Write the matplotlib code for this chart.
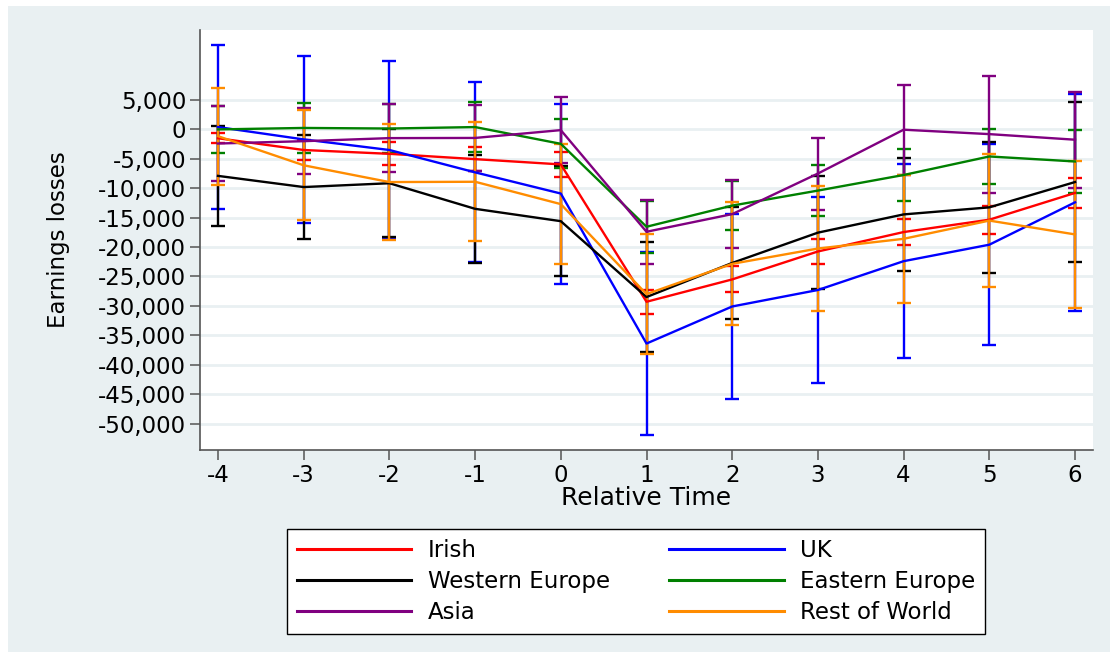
import matplotlib
matplotlib.use("Agg")
import matplotlib.pyplot as plt
from matplotlib.patches import Rectangle
from matplotlib.ticker import FuncFormatter

plt.rcParams["axes.unicode_minus"] = False

# relative time (years around the event)
rel_time = [-4, -3, -2, -1, 0, 1, 2, 3, 4, 5, 6]

# point estimates and half-widths of the confidence intervals, by origin group
irish = [-1500, -3500, -4150, -5050, -5950, -29300, -25500, -20750, -17450, -15350, -10800]
irish_ci = [820, 1750, 1970, 2030, 2060, 2000, 2200, 2150, 2270, 2380, 2610]

uk = [400, -1700, -3500, -7300, -10900, -36400, -30100, -27300, -22400, -19600, -12400]
uk_ci = [13900, 14130, 15170, 15290, 15300, 15540, 15740, 15870, 16460, 17110, 18480]

west_eu = [-7900, -9800, -9150, -13500, -15600, -28500, -22700, -17550, -14450, -13250, -8950]
west_eu_ci = [8460, 8910, 9140, 9130, 9320, 9350, 9500, 9550, 9630, 11100, 13545]

east_eu = [0, 250, 150, 400, -2450, -16550, -12950, -10400, -7750, -4600, -5450]
east_eu_ci = [3950, 4200, 4230, 4320, 4170, 4440, 4200, 4340, 4480, 4700, 5330]

asia = [-2400, -2000, -1480, -1450, -120, -17400, -14400, -7500, -50, -800, -1750]
asia_ci = [6310, 5640, 5750, 5620, 5590, 5400, 5820, 6120, 7650, 9950, 8160]

rest_world = [-1150, -6100, -8950, -8900, -12700, -28000, -22850, -20250, -18600, -15500, -17850]
rest_world_ci = [8260, 9360, 9840, 10140, 10140, 10230, 10480, 10650, 10910, 11250, 12470]

series = [
    ("Irish", irish, irish_ci, "#ff0000"),
    ("UK", uk, uk_ci, "#0000ff"),
    ("Western Europe", west_eu, west_eu_ci, "#000000"),
    ("Eastern Europe", east_eu, east_eu_ci, "#008000"),
    ("Asia", asia, asia_ci, "#800080"),
    ("Rest of World", rest_world, rest_world_ci, "#ff8c00"),
]

yticks = list(range(-50000, 5001, 5000))

bg = "#e9f0f2"

fig = plt.figure(figsize=(11.17, 6.58), dpi=100)
fig.patch.set_facecolor("white")
# tinted graph region inside a thin white border
fig.patches.append(Rectangle((8 / 1117, 6 / 658), 1102 / 1117, 646 / 658,
                             transform=fig.transFigure, facecolor=bg,
                             edgecolor="none", zorder=-10))

ax = fig.add_axes([200 / 1117, 1 - 450 / 658, 893 / 1117, 420 / 658])
ax.set_facecolor("white")

lines = {}
for name, vals, ci, col in series:
    ax.errorbar(rel_time, vals, yerr=ci, fmt="none", ecolor=col,
                elinewidth=1.7, capsize=5, capthick=1.7, zorder=2)
for name, vals, ci, col in series:
    ln, = ax.plot(rel_time, vals, color=col, lw=1.7, zorder=3, label=name)
    lines[name] = ln

ax.set_xlim(-4.21, 6.21)
ax.set_ylim(-54500, 16900)
ax.set_xticks(rel_time)
ax.set_yticks(yticks)
ax.yaxis.set_major_formatter(FuncFormatter(lambda v, p: "{:,.0f}".format(v)))
ax.grid(axis="y", color=bg, lw=2, zorder=0)
ax.set_axisbelow(True)

for s in ["top", "right"]:
    ax.spines[s].set_visible(False)
for s in ["left", "bottom"]:
    ax.spines[s].set_color("#555555")
    ax.spines[s].set_linewidth(1.2)

ax.tick_params(axis="both", direction="out", color="#555555", width=1.1,
               length=7, labelsize=16.5, pad=3)

ax.set_xlabel("Relative Time", fontsize=18, va="center")
ax.xaxis.set_label_coords(0.5, (450 - 498) / 420)
ax.set_ylabel("Earnings losses", fontsize=16.5, va="center")
ax.yaxis.set_label_coords((58 - 200) / 893, 0.5)

order = ["Irish", "Western Europe", "Asia", "UK", "Eastern Europe", "Rest of World"]
leg = fig.legend([lines[n] for n in order], order, loc="center",
                 bbox_to_anchor=(636 / 1117, 1 - 581.5 / 658), ncol=2,
                 fontsize=16.5, frameon=True, fancybox=False, framealpha=1,
                 edgecolor="black", handlelength=5.0, handletextpad=0.7,
                 columnspacing=2.6, labelspacing=0.35, borderpad=0.45)
leg.get_frame().set_linewidth(1.0)
for h in leg.legend_handles:
    h.set_linewidth(2.2)

fig.savefig("out.png", dpi=100, facecolor=fig.get_facecolor())
